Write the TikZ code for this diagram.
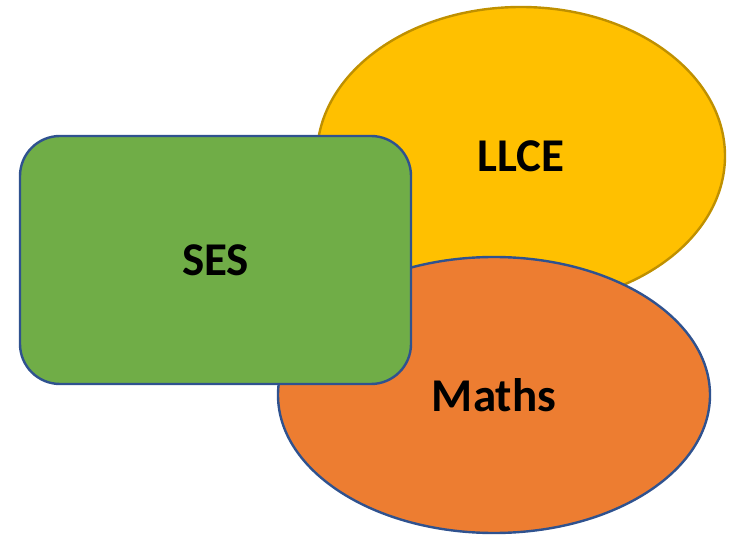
\documentclass[tikz,border=0pt]{standalone}
\usepackage{fontspec}
\setmainfont{Carlito}
\usetikzlibrary{shapes.geometric}
\definecolor{llceyellow}{HTML}{FFC000}
\definecolor{llceedge}{HTML}{BF9000}
\definecolor{mathsorange}{HTML}{ED7D31}
\definecolor{sesgreen}{HTML}{70AD47}
\definecolor{edgeblue}{HTML}{2F528F}
\begin{document}
\begin{tikzpicture}[x=1pt,y=-1pt,
  label font/.style={font=\fontsize{47}{56}\selectfont\bfseries},
  blob/.style={ellipse,inner sep=0pt,line width=2.4pt,label font},
  box/.style={rectangle,rounded corners=40pt,inner sep=0pt,line width=2.4pt,label font}]
\useasboundingbox (0,0) rectangle (742,537);

\node[blob,draw=llceedge,fill=llceyellow,minimum width=408pt,minimum height=298pt] (llce) at (521,156) {LLCE};
\node[blob,draw=edgeblue,fill=mathsorange,minimum width=432pt,minimum height=276pt] (maths) at (494,395) {Maths};
\node[box,draw=edgeblue,fill=sesgreen,minimum width=391pt,minimum height=248pt] (ses) at (215.5,260) {SES};
\end{tikzpicture}
\end{document}
